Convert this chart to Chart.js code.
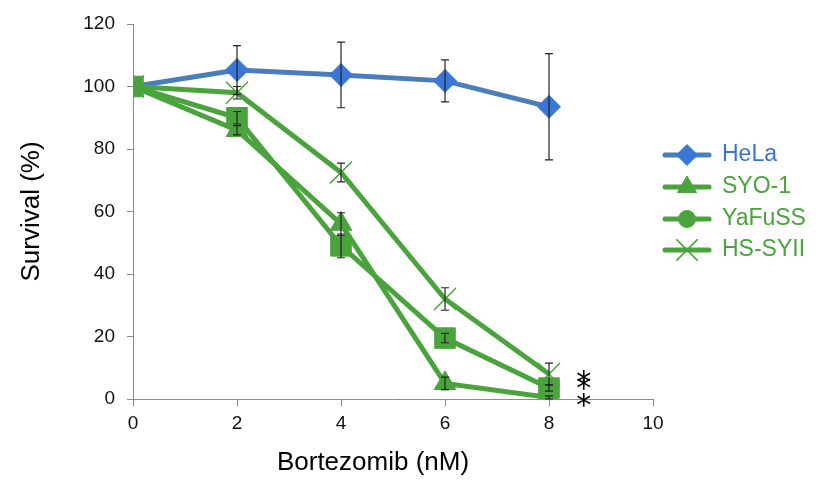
<!DOCTYPE html>
<html>
<head>
<meta charset="utf-8">
<script src="https://cdn.jsdelivr.net/npm/chart.js@4/dist/chart.umd.min.js"></script>
<style>
html,body{margin:0;padding:0;background:#fff;}
#wrap{width:830px;height:481px;}
</style>
</head>
<body>
<div id="wrap"><canvas id="c" width="830" height="481"></canvas></div>
<script>
// ---- data ----
const doses = [0, 2, 4, 6, 8];
const xTicks = [0, 2, 4, 6, 8, 10];
const yTicks = [0, 20, 40, 60, 80, 100, 120];
const seriesNames = ['HeLa', 'SYO-1', 'YaFuSS', 'HS-SYII'];
const helaVals = [100, 105.3, 103.7, 101.8, 93.5];
const helaErr  = [0, 7.8, 10.5, 6.7, 17.0];
const syoVals  = [100, 86, 56, 5, 0.5];
const syoErr   = [0, 1.5, 3.6, 2, 0.5];
const yafVals  = [100, 90, 49, 19.5, 3.5];
const yafErr   = [0, 2, 3.8, 1.5, 1];
const hsVals   = [100, 98, 72.5, 32, 8];
const hsErr    = [0, 2, 3, 3.6, 3.5];
const starX = [8.67, 8.67, 8.67];
const starY = [7.1, 5.0, -0.3];
const xTitle = 'Bortezomib (nM)';
const yTitle = 'Survival (%)';

const BLUE_LINE = '#4A7EBB', BLUE_MARK = '#3A76D6', GREEN = '#4AA33C';
const FONT = "'Liberation Sans', Arial, sans-serif";

function pts(v){ return doses.map((d,i)=>({x:d, y:v[i]})); }

const datasets = [
  {label: seriesNames[0], data: pts(helaVals), err: helaErr, borderColor: BLUE_LINE, backgroundColor: BLUE_MARK,
   pointStyle:'rectRot', pointRadius:11.5, pointBorderColor: BLUE_MARK, pointBorderWidth:1, legendStyle:'rectRot', legendRadius:10.5, legendBW:1, order:4},
  {label: seriesNames[1], data: pts(syoVals), err: syoErr, borderColor: GREEN, backgroundColor: GREEN,
   pointStyle:'triangle', pointRadius:12.5, pointBorderColor: GREEN, pointBorderWidth:1, legendStyle:'triangle', legendRadius:11, legendBW:1, order:1},
  {label: seriesNames[2], data: pts(yafVals), err: yafErr, borderColor: GREEN, backgroundColor: GREEN,
   pointStyle:'rect', pointRadius:14.5, pointBorderColor: GREEN, pointBorderWidth:1, legendStyle:'circle', legendRadius:8.5, legendBW:1, order:0},
  {label: seriesNames[3], data: pts(hsVals), err: hsErr, borderColor: GREEN, backgroundColor: GREEN,
   pointStyle:'crossRot', pointRadius:15.5, pointBorderColor: GREEN, pointBorderWidth:1.5, legendStyle:'crossRot', legendRadius:15, legendBW:1.5, order:2}
];
datasets.forEach(d=>{ d.borderWidth = 5; d.showLine = true; d.tension = 0; d.pointHoverRadius = d.pointRadius; d.fill = false; });

const errorBars = {
  id:'errorBars',
  afterDatasetsDraw(chart){
    const ctx = chart.ctx, xs = chart.scales.x, ys = chart.scales.y;
    ctx.save();
    ctx.strokeStyle = '#222';
    ctx.lineWidth = 1.2;
    chart.data.datasets.forEach(ds=>{
      ds.data.forEach((p,i)=>{
        const e = ds.err[i];
        if(!e) return;
        const x = xs.getPixelForValue(p.x);
        const y1 = ys.getPixelForValue(p.y + e), y2 = ys.getPixelForValue(p.y - e);
        ctx.beginPath();
        ctx.moveTo(x, y1); ctx.lineTo(x, y2);
        ctx.moveTo(x-4, y1); ctx.lineTo(x+4, y1);
        ctx.moveTo(x-4, y2); ctx.lineTo(x+4, y2);
        ctx.stroke();
      });
    });
    // asterisks
    ctx.fillStyle = '#000';
    ctx.font = "30px 'DejaVu Sans', sans-serif";
    ctx.textAlign = 'center';
    ctx.textBaseline = 'alphabetic';
    const m = ctx.measureText('*');
    const off = (m.actualBoundingBoxDescent - m.actualBoundingBoxAscent)/2;
    starX.forEach((sx,i)=>{
      ctx.fillText('*', xs.getPixelForValue(sx), ys.getPixelForValue(starY[i]) - off);
    });
    ctx.restore();
  }
};

const customText = {
  id:'customText',
  afterDraw(chart){
    const ctx = chart.ctx;
    ctx.save();
    // x axis title
    ctx.fillStyle = '#000';
    ctx.font = '26px ' + FONT;
    ctx.textAlign = 'center';
    ctx.textBaseline = 'middle';
    ctx.fillText(xTitle, 373, 463);
    // legend
    const x0 = 665, x1 = 709, xm = 687, tx = 722;
    const rows = [155, 187, 219, 250];
    chart.data.datasets.forEach((ds,i)=>{
      const y = rows[i];
      const markColor = i===0 ? BLUE_MARK : GREEN;
      ctx.strokeStyle = ds.borderColor;
      ctx.lineWidth = 5;
      ctx.lineCap = 'round';
      ctx.beginPath(); ctx.moveTo(x0, y); ctx.lineTo(x1, y); ctx.stroke();
      ctx.fillStyle = markColor;
      ctx.strokeStyle = markColor;
      ctx.lineWidth = ds.legendBW;
      ctx.lineCap = 'butt';
      Chart.helpers.drawPoint(ctx, {pointStyle: ds.legendStyle, radius: ds.legendRadius, rotation:0, borderWidth: ds.legendBW}, xm, y);
      ctx.fillStyle = i===0 ? '#3A74D0' : GREEN;
      ctx.font = '23px ' + FONT;
      ctx.textAlign = 'left';
      ctx.textBaseline = 'middle';
      ctx.fillText(ds.label, tx, y);
    });
    ctx.restore();
  }
};

new Chart(document.getElementById('c'), {
  type:'line',
  data:{datasets},
  options:{
    responsive:false,
    animation:false,
    events:[],
    layout:{padding:{top:24, right:177, left:0, bottom:0}},
    plugins:{legend:{display:false}, tooltip:{enabled:false}},
    scales:{
      x:{type:'linear', min:0, max:10,
         afterBuildTicks(s){ s.ticks = xTicks.map(v=>({value:v})); },
         afterFit(s){ s.height = 82; },
         grid:{display:true, drawOnChartArea:false, drawTicks:true, tickLength:7, color:'#8c8c8c', lineWidth:1},
         border:{display:true, color:'#8c8c8c', width:1},
         ticks:{color:'#111', font:{family:FONT, size:19}, padding:6, maxRotation:0, autoSkip:false}
      },
      y:{type:'linear', min:0, max:120,
         afterBuildTicks(s){ s.ticks = yTicks.map(v=>({value:v})); },
         afterFit(s){ s.width = 133; },
         grid:{display:true, drawOnChartArea:false, drawTicks:true, tickLength:6, color:'#8c8c8c', lineWidth:1},
         border:{display:true, color:'#8c8c8c', width:1},
         ticks:{color:'#111', font:{family:FONT, size:19}, padding:12},
         title:{display:true, text:yTitle, color:'#000', font:{family:FONT, size:26}, padding:{top:16, bottom:0}}
      }
    }
  },
  plugins:[errorBars, customText]
});
</script>
</body>
</html>
